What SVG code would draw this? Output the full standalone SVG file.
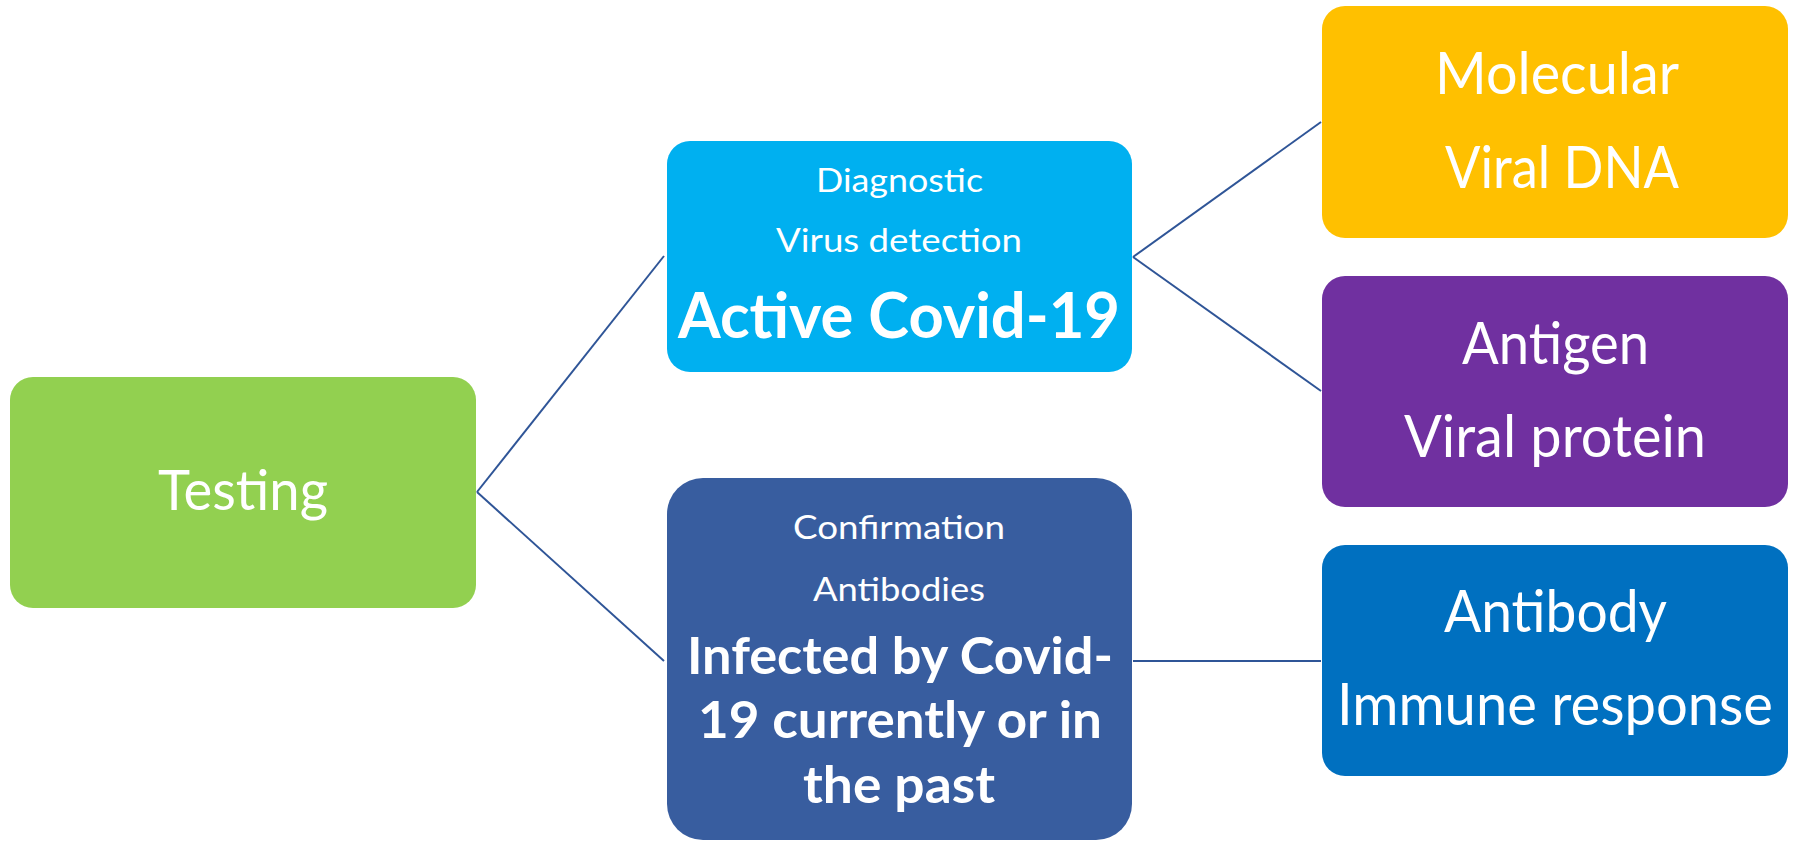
<svg xmlns="http://www.w3.org/2000/svg" width="1796" height="841" viewBox="0 0 1796 841">
<style>
.t{font-family:Lato,"Open Sans","Liberation Sans",sans-serif;fill:#FFFFFF;text-anchor:middle}
.b{font-weight:bold}
.c{stroke:#2F5597;stroke-width:2;fill:none}
</style>
<rect width="1796" height="841" fill="#FFFFFF"/>
<g id="connectors">
<line class="c" x1="477" y1="492" x2="664" y2="256"/>
<line class="c" x1="477" y1="492" x2="664" y2="661"/>
<line class="c" x1="1133" y1="257" x2="1321" y2="122"/>
<line class="c" x1="1133" y1="257" x2="1321" y2="391"/>
<line class="c" x1="1133" y1="661" x2="1321" y2="661"/>
</g>
<g id="testing">
<rect x="10" y="377" width="466" height="231" rx="23" fill="#92D050"/>
<text class="t" x="243" y="510" font-size="56" textLength="170" lengthAdjust="spacingAndGlyphs">Testing</text>
</g>
<g id="diagnostic">
<rect x="667" y="141" width="465" height="231" rx="23" fill="#00B0F0"/>
<text class="t" x="899.5" y="192" font-size="32.5" textLength="167" lengthAdjust="spacingAndGlyphs">Diagnostic</text>
<text class="t" x="899" y="252" font-size="32.5" textLength="246" lengthAdjust="spacingAndGlyphs">Virus detection</text>
<text class="t b" x="899" y="338" font-size="63" textLength="442" lengthAdjust="spacingAndGlyphs">Active Covid-19</text>
</g>
<g id="confirmation">
<rect x="667" y="478" width="465" height="362" rx="36" fill="#385D9F"/>
<text class="t" x="899" y="539" font-size="32.5" textLength="212" lengthAdjust="spacingAndGlyphs">Confirmation</text>
<text class="t" x="899" y="601" font-size="32.5" textLength="172" lengthAdjust="spacingAndGlyphs">Antibodies</text>
<text class="t b" x="900" y="674" font-size="52" textLength="426" lengthAdjust="spacingAndGlyphs">Infected by Covid-</text>
<text class="t b" x="900" y="738" font-size="52" textLength="404" lengthAdjust="spacingAndGlyphs">19 currently or in</text>
<text class="t b" x="899" y="803" font-size="52" textLength="192" lengthAdjust="spacingAndGlyphs">the past</text>
</g>
<g id="molecular">
<rect x="1322" y="6" width="466" height="232" rx="23" fill="#FFC000"/>
<text class="t" x="1557" y="94" font-size="58.6" textLength="244" lengthAdjust="spacingAndGlyphs">Molecular</text>
<text class="t" x="1562" y="188" font-size="58.6" textLength="234" lengthAdjust="spacingAndGlyphs">Viral DNA</text>
</g>
<g id="antigen">
<rect x="1322" y="276" width="466" height="231" rx="23" fill="#7030A0"/>
<text class="t" x="1555.5" y="364" font-size="58.6" textLength="187" lengthAdjust="spacingAndGlyphs">Antigen</text>
<text class="t" x="1555" y="457" font-size="58.6" textLength="302" lengthAdjust="spacingAndGlyphs">Viral protein</text>
</g>
<g id="antibody">
<rect x="1322" y="545" width="466" height="231" rx="23" fill="#0070C0"/>
<text class="t" x="1555.5" y="632" font-size="58.6" textLength="223" lengthAdjust="spacingAndGlyphs">Antibody</text>
<text class="t" x="1555" y="725" font-size="58.6" textLength="436" lengthAdjust="spacingAndGlyphs">Immune response</text>
</g>
</svg>
